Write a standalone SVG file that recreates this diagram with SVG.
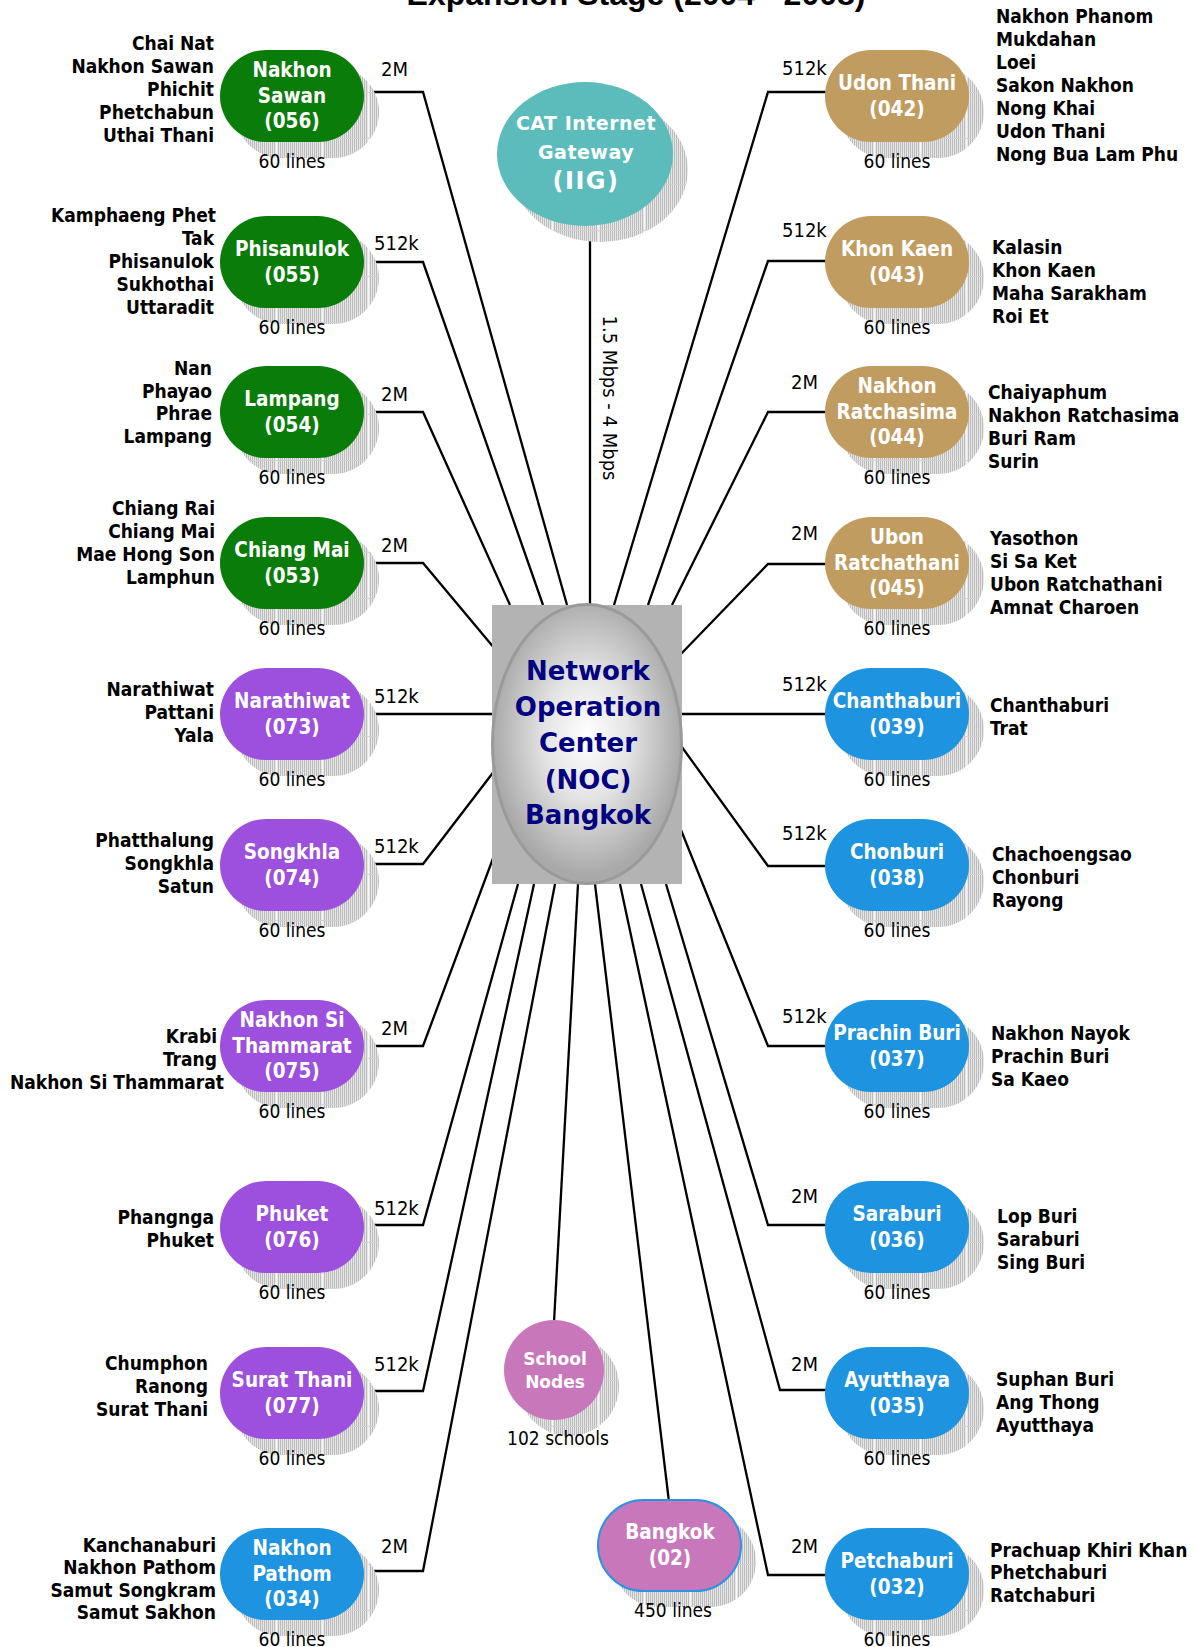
<svg xmlns="http://www.w3.org/2000/svg" width="1195" height="1647" viewBox="0 0 1195 1647">
<style>
  .title{font-family:"Liberation Sans",Arial,sans-serif;font-weight:bold;font-size:32px;fill:#000;text-anchor:middle}
  .lbl{font-family:"DejaVu Sans Condensed","DejaVu Sans",sans-serif;font-stretch:condensed;font-weight:bold;font-size:20.5px;fill:#fff;text-anchor:middle}
  .prov{font-family:"DejaVu Sans Condensed","DejaVu Sans",sans-serif;font-stretch:condensed;font-weight:bold;font-size:19px;fill:#000}
  .end{text-anchor:end}
  .cnt{font-family:"DejaVu Sans Condensed","DejaVu Sans",sans-serif;font-stretch:condensed;font-size:19px;fill:#000;text-anchor:middle}
  .rate{font-family:"DejaVu Sans Condensed","DejaVu Sans",sans-serif;font-stretch:condensed;font-size:20px;fill:#000}
  .vtxt{font-family:"DejaVu Sans Condensed","DejaVu Sans",sans-serif;font-stretch:condensed;font-size:20px;fill:#000;text-anchor:middle}
  .wide{font-family:"DejaVu Sans",Verdana,sans-serif;font-weight:bold;fill:#fff;text-anchor:middle}
  .noc{font-family:"DejaVu Sans",Verdana,sans-serif;font-weight:bold;font-size:26px;fill:#000080;text-anchor:middle}
  .shd{fill:url(#tile)}
  .green{fill:#097C09}
  .purple{fill:#9D50DD}
  .tan{fill:#C19C61}
  .blue{fill:#1E93DF}
  .pink{fill:#C878BA}
  .wire{fill:none;stroke:#000;stroke-width:2.3;stroke-linejoin:miter}
</style>
<defs>
  <pattern id="hatch" width="2" height="4" patternUnits="userSpaceOnUse">
    <rect width="2" height="4" fill="#e6e6e6"/>
    <rect width="1" height="4" fill="#bcbcbc"/>
  </pattern>
  <pattern id="tile" width="46" height="46" patternUnits="userSpaceOnUse">
    <rect width="46" height="46" fill="url(#hatch)"/>
    <rect x="0" y="0" width="1" height="46" fill="#f6f6f6"/>
    <rect x="0" y="0" width="46" height="1" fill="#d2d2d2"/>
  </pattern>
  <radialGradient id="nocFill" cx="0.5" cy="0.47" r="0.5">
    <stop offset="0" stop-color="#ffffff"/>
    <stop offset="0.45" stop-color="#e4e4e4"/>
    <stop offset="1" stop-color="#a9a9a9"/>
  </radialGradient>
</defs>

<rect width="1195" height="1647" fill="#fff"/>

<text class="title" x="636" y="5">Expansion Stage (2004 - 2008)</text>

<!-- links from the NOC to every node, with their rate labels -->
<g id="connectors">
  <path class="wire" d="M370 92 H423 L567 605"/>
  <path class="wire" d="M370 262 H423 L543 605"/>
  <path class="wire" d="M370 412 H423 L510 605"/>
  <path class="wire" d="M370 563 H423 L495 649"/>
  <path class="wire" d="M370 714 H495"/>
  <path class="wire" d="M370 864 H423 L495 770"/>
  <path class="wire" d="M370 1046 H423 L495 853"/>
  <path class="wire" d="M370 1225 H423 L518 884"/>
  <path class="wire" d="M370 1391 H423 L534 884"/>
  <path class="wire" d="M370 1571 H423 L555 884"/>

  <path class="wire" d="M840 92 H768 L614 605"/>
  <path class="wire" d="M840 261 H768 L648 605"/>
  <path class="wire" d="M840 412 H768 L672 605"/>
  <path class="wire" d="M840 564 H768 L679 656"/>
  <path class="wire" d="M840 714 H679"/>
  <path class="wire" d="M840 866 H768 L679 743"/>
  <path class="wire" d="M840 1046 H768 L679 825"/>
  <path class="wire" d="M840 1225 H768 L666 884"/>
  <path class="wire" d="M840 1390 H780 L641 884"/>
  <path class="wire" d="M840 1575 H768 L620 884"/>

  <path class="wire" d="M590 220 V605"/>
  <path class="wire" d="M578 884 L554 1322"/>
  <path class="wire" d="M595 884 L669 1502"/>

  <text class="vtxt" transform="translate(603 398) rotate(90)">1.5 Mbps - 4 Mbps</text>

  <text class="rate" x="381" y="76">2M</text>
  <text class="rate" x="374" y="250">512k</text>
  <text class="rate" x="381" y="401">2M</text>
  <text class="rate" x="381" y="552">2M</text>
  <text class="rate" x="374" y="703">512k</text>
  <text class="rate" x="374" y="853">512k</text>
  <text class="rate" x="381" y="1035">2M</text>
  <text class="rate" x="374" y="1215">512k</text>
  <text class="rate" x="374" y="1371">512k</text>
  <text class="rate" x="381" y="1553">2M</text>

  <text class="rate" x="782" y="75">512k</text>
  <text class="rate" x="782" y="237">512k</text>
  <text class="rate" x="791" y="389">2M</text>
  <text class="rate" x="791" y="540">2M</text>
  <text class="rate" x="782" y="691">512k</text>
  <text class="rate" x="782" y="840">512k</text>
  <text class="rate" x="782" y="1023">512k</text>
  <text class="rate" x="791" y="1203">2M</text>
  <text class="rate" x="791" y="1371">2M</text>
  <text class="rate" x="791" y="1553">2M</text>
</g>

<!-- central hub -->
<g id="noc">
  <rect x="492" y="605" width="190" height="279" fill="#b3b3b3"/>
  <ellipse cx="587" cy="744" rx="94.5" ry="139.5" fill="url(#nocFill)" stroke="#9a9a9a" stroke-width="3"/>
  <text class="noc" x="588"><tspan x="588" y="680">Network</tspan><tspan x="588" y="716">Operation</tspan><tspan x="588" y="752">Center</tspan><tspan x="588" y="789">(NOC)</tspan><tspan x="588" y="824">Bangkok</tspan></text>
</g>

<!-- internet gateway -->
<g id="iig">
  <ellipse class="shd" cx="600" cy="170" rx="88" ry="72"/>
  <ellipse cx="585" cy="154" rx="88" ry="72" fill="#5CBCBC"/>
  <text class="wide" font-size="19" x="586" y="130" letter-spacing="0.5">CAT Internet</text>
  <text class="wide" font-size="19" x="586" y="159" letter-spacing="0.5">Gateway</text>
  <text class="wide" font-size="24" x="586" y="189" letter-spacing="1.5">(IIG)</text>
</g>

<!-- left column -->
<g id="n-nakhon-sawan">
  <rect class="shd" x="235" y="66" width="144" height="92" rx="46"/>
  <rect class="green" x="220" y="50" width="144" height="92" rx="46"/>
  <text class="lbl"><tspan x="292" y="77">Nakhon</tspan><tspan x="292" y="102.5">Sawan</tspan><tspan x="292" y="128">(056)</tspan></text>
  <text class="cnt" x="292" y="168">60 lines</text>
  <text class="prov end"><tspan x="214" y="50">Chai Nat</tspan><tspan x="214" y="73">Nakhon Sawan</tspan><tspan x="214" y="96">Phichit</tspan><tspan x="214" y="119">Phetchabun</tspan><tspan x="214" y="142">Uthai Thani</tspan></text>
</g>
<g id="n-phisanulok">
  <rect class="shd" x="235" y="232" width="144" height="92" rx="46"/>
  <rect class="green" x="220" y="216" width="144" height="92" rx="46"/>
  <text class="lbl"><tspan x="292" y="256">Phisanulok</tspan><tspan x="292" y="282">(055)</tspan></text>
  <text class="cnt" x="292" y="334">60 lines</text>
  <text class="prov end"><tspan x="216" y="222">Kamphaeng Phet</tspan><tspan x="214" y="245">Tak</tspan><tspan x="214" y="268">Phisanulok</tspan><tspan x="214" y="291">Sukhothai</tspan><tspan x="214" y="314">Uttaradit</tspan></text>
</g>
<g id="n-lampang">
  <rect class="shd" x="235" y="382" width="144" height="92" rx="46"/>
  <rect class="green" x="220" y="366" width="144" height="92" rx="46"/>
  <text class="lbl"><tspan x="292" y="406">Lampang</tspan><tspan x="292" y="432">(054)</tspan></text>
  <text class="cnt" x="292" y="484">60 lines</text>
  <text class="prov end"><tspan x="212" y="375">Nan</tspan><tspan x="212" y="398">Phayao</tspan><tspan x="212" y="420">Phrae</tspan><tspan x="212" y="443">Lampang</tspan></text>
</g>
<g id="n-chiang-mai">
  <rect class="shd" x="235" y="533" width="144" height="92" rx="46"/>
  <rect class="green" x="220" y="517" width="144" height="92" rx="46"/>
  <text class="lbl"><tspan x="292" y="557">Chiang Mai</tspan><tspan x="292" y="583">(053)</tspan></text>
  <text class="cnt" x="292" y="635">60 lines</text>
  <text class="prov end"><tspan x="215" y="515">Chiang Rai</tspan><tspan x="215" y="538">Chiang Mai</tspan><tspan x="215" y="561">Mae Hong Son</tspan><tspan x="215" y="584">Lamphun</tspan></text>
</g>
<g id="n-narathiwat">
  <rect class="shd" x="235" y="684" width="144" height="92" rx="46"/>
  <rect class="purple" x="220" y="668" width="144" height="92" rx="46"/>
  <text class="lbl"><tspan x="292" y="708">Narathiwat</tspan><tspan x="292" y="734">(073)</tspan></text>
  <text class="cnt" x="292" y="786">60 lines</text>
  <text class="prov end"><tspan x="214" y="696">Narathiwat</tspan><tspan x="214" y="719">Pattani</tspan><tspan x="214" y="742">Yala</tspan></text>
</g>
<g id="n-songkhla">
  <rect class="shd" x="235" y="835" width="144" height="92" rx="46"/>
  <rect class="purple" x="220" y="819" width="144" height="92" rx="46"/>
  <text class="lbl"><tspan x="292" y="859">Songkhla</tspan><tspan x="292" y="885">(074)</tspan></text>
  <text class="cnt" x="292" y="937">60 lines</text>
  <text class="prov end"><tspan x="214" y="847">Phatthalung</tspan><tspan x="214" y="870">Songkhla</tspan><tspan x="214" y="893">Satun</tspan></text>
</g>
<g id="n-nakhon-si-thammarat">
  <rect class="shd" x="235" y="1016" width="144" height="92" rx="46"/>
  <rect class="purple" x="220" y="1000" width="144" height="92" rx="46"/>
  <text class="lbl"><tspan x="292" y="1027">Nakhon Si</tspan><tspan x="292" y="1052.5">Thammarat</tspan><tspan x="292" y="1078">(075)</tspan></text>
  <text class="cnt" x="292" y="1118">60 lines</text>
  <text class="prov end"><tspan x="217" y="1043">Krabi</tspan><tspan x="217" y="1066">Trang</tspan><tspan x="224" y="1089">Nakhon Si Thammarat</tspan></text>
</g>
<g id="n-phuket">
  <rect class="shd" x="235" y="1197" width="144" height="92" rx="46"/>
  <rect class="purple" x="220" y="1181" width="144" height="92" rx="46"/>
  <text class="lbl"><tspan x="292" y="1221">Phuket</tspan><tspan x="292" y="1247">(076)</tspan></text>
  <text class="cnt" x="292" y="1299">60 lines</text>
  <text class="prov end"><tspan x="214" y="1224">Phangnga</tspan><tspan x="214" y="1247">Phuket</tspan></text>
</g>
<g id="n-surat-thani">
  <rect class="shd" x="235" y="1363" width="144" height="92" rx="46"/>
  <rect class="purple" x="220" y="1347" width="144" height="92" rx="46"/>
  <text class="lbl"><tspan x="292" y="1387">Surat Thani</tspan><tspan x="292" y="1413">(077)</tspan></text>
  <text class="cnt" x="292" y="1465">60 lines</text>
  <text class="prov end"><tspan x="208" y="1370">Chumphon</tspan><tspan x="208" y="1393">Ranong</tspan><tspan x="208" y="1416">Surat Thani</tspan></text>
</g>
<g id="n-nakhon-pathom">
  <rect class="shd" x="235" y="1544" width="144" height="92" rx="46"/>
  <rect class="blue" x="220" y="1528" width="144" height="92" rx="46"/>
  <text class="lbl"><tspan x="292" y="1555">Nakhon</tspan><tspan x="292" y="1580.5">Pathom</tspan><tspan x="292" y="1606">(034)</tspan></text>
  <text class="cnt" x="292" y="1646">60 lines</text>
  <text class="prov end"><tspan x="216" y="1552">Kanchanaburi</tspan><tspan x="216" y="1574">Nakhon Pathom</tspan><tspan x="216" y="1597">Samut Songkram</tspan><tspan x="216" y="1619">Samut Sakhon</tspan></text>
</g>

<!-- right column -->
<g id="n-udon-thani">
  <rect class="shd" x="840" y="66" width="144" height="92" rx="46"/>
  <rect class="tan" x="825" y="50" width="144" height="92" rx="46"/>
  <text class="lbl"><tspan x="897" y="90">Udon Thani</tspan><tspan x="897" y="116">(042)</tspan></text>
  <text class="cnt" x="897" y="168">60 lines</text>
  <text class="prov"><tspan x="996" y="23">Nakhon Phanom</tspan><tspan x="996" y="46">Mukdahan</tspan><tspan x="996" y="69">Loei</tspan><tspan x="996" y="92">Sakon Nakhon</tspan><tspan x="996" y="115">Nong Khai</tspan><tspan x="996" y="138">Udon Thani</tspan><tspan x="996" y="161">Nong Bua Lam Phu</tspan></text>
</g>
<g id="n-khon-kaen">
  <rect class="shd" x="840" y="232" width="144" height="92" rx="46"/>
  <rect class="tan" x="825" y="216" width="144" height="92" rx="46"/>
  <text class="lbl"><tspan x="897" y="256">Khon Kaen</tspan><tspan x="897" y="282">(043)</tspan></text>
  <text class="cnt" x="897" y="334">60 lines</text>
  <text class="prov"><tspan x="992" y="254">Kalasin</tspan><tspan x="992" y="277">Khon Kaen</tspan><tspan x="992" y="300">Maha Sarakham</tspan><tspan x="992" y="323">Roi Et</tspan></text>
</g>
<g id="n-nakhon-ratchasima">
  <rect class="shd" x="840" y="382" width="144" height="92" rx="46"/>
  <rect class="tan" x="825" y="366" width="144" height="92" rx="46"/>
  <text class="lbl"><tspan x="897" y="393">Nakhon</tspan><tspan x="897" y="418.5">Ratchasima</tspan><tspan x="897" y="444">(044)</tspan></text>
  <text class="cnt" x="897" y="484">60 lines</text>
  <text class="prov"><tspan x="988" y="399">Chaiyaphum</tspan><tspan x="988" y="422">Nakhon Ratchasima</tspan><tspan x="988" y="445">Buri Ram</tspan><tspan x="988" y="468">Surin</tspan></text>
</g>
<g id="n-ubon-ratchathani">
  <rect class="shd" x="840" y="533" width="144" height="92" rx="46"/>
  <rect class="tan" x="825" y="517" width="144" height="92" rx="46"/>
  <text class="lbl"><tspan x="897" y="544">Ubon</tspan><tspan x="897" y="569.5">Ratchathani</tspan><tspan x="897" y="595">(045)</tspan></text>
  <text class="cnt" x="897" y="635">60 lines</text>
  <text class="prov"><tspan x="990" y="545">Yasothon</tspan><tspan x="990" y="568">Si Sa Ket</tspan><tspan x="990" y="591">Ubon Ratchathani</tspan><tspan x="990" y="614">Amnat Charoen</tspan></text>
</g>
<g id="n-chanthaburi">
  <rect class="shd" x="840" y="684" width="144" height="92" rx="46"/>
  <rect class="blue" x="825" y="668" width="144" height="92" rx="46"/>
  <text class="lbl"><tspan x="897" y="708">Chanthaburi</tspan><tspan x="897" y="734">(039)</tspan></text>
  <text class="cnt" x="897" y="786">60 lines</text>
  <text class="prov"><tspan x="990" y="712">Chanthaburi</tspan><tspan x="990" y="735">Trat</tspan></text>
</g>
<g id="n-chonburi">
  <rect class="shd" x="840" y="835" width="144" height="92" rx="46"/>
  <rect class="blue" x="825" y="819" width="144" height="92" rx="46"/>
  <text class="lbl"><tspan x="897" y="859">Chonburi</tspan><tspan x="897" y="885">(038)</tspan></text>
  <text class="cnt" x="897" y="937">60 lines</text>
  <text class="prov"><tspan x="992" y="861">Chachoengsao</tspan><tspan x="992" y="884">Chonburi</tspan><tspan x="992" y="907">Rayong</tspan></text>
</g>
<g id="n-prachin-buri">
  <rect class="shd" x="840" y="1016" width="144" height="92" rx="46"/>
  <rect class="blue" x="825" y="1000" width="144" height="92" rx="46"/>
  <text class="lbl"><tspan x="897" y="1040">Prachin Buri</tspan><tspan x="897" y="1066">(037)</tspan></text>
  <text class="cnt" x="897" y="1118">60 lines</text>
  <text class="prov"><tspan x="991" y="1040">Nakhon Nayok</tspan><tspan x="991" y="1063">Prachin Buri</tspan><tspan x="991" y="1086">Sa Kaeo</tspan></text>
</g>
<g id="n-saraburi">
  <rect class="shd" x="840" y="1197" width="144" height="92" rx="46"/>
  <rect class="blue" x="825" y="1181" width="144" height="92" rx="46"/>
  <text class="lbl"><tspan x="897" y="1221">Saraburi</tspan><tspan x="897" y="1247">(036)</tspan></text>
  <text class="cnt" x="897" y="1299">60 lines</text>
  <text class="prov"><tspan x="997" y="1223">Lop Buri</tspan><tspan x="997" y="1246">Saraburi</tspan><tspan x="997" y="1269">Sing Buri</tspan></text>
</g>
<g id="n-ayutthaya">
  <rect class="shd" x="840" y="1363" width="144" height="92" rx="46"/>
  <rect class="blue" x="825" y="1347" width="144" height="92" rx="46"/>
  <text class="lbl"><tspan x="897" y="1387">Ayutthaya</tspan><tspan x="897" y="1413">(035)</tspan></text>
  <text class="cnt" x="897" y="1465">60 lines</text>
  <text class="prov"><tspan x="996" y="1386">Suphan Buri</tspan><tspan x="996" y="1409">Ang Thong</tspan><tspan x="996" y="1432">Ayutthaya</tspan></text>
</g>
<g id="n-petchaburi">
  <rect class="shd" x="840" y="1544" width="144" height="92" rx="46"/>
  <rect class="blue" x="825" y="1528" width="144" height="92" rx="46"/>
  <text class="lbl"><tspan x="897" y="1568">Petchaburi</tspan><tspan x="897" y="1594">(032)</tspan></text>
  <text class="cnt" x="897" y="1646">60 lines</text>
  <text class="prov"><tspan x="990" y="1557">Prachuap Khiri Khan</tspan><tspan x="990" y="1579">Phetchaburi</tspan><tspan x="990" y="1602">Ratchaburi</tspan></text>
</g>

<!-- bottom centre -->
<g id="n-school-nodes">
  <circle class="shd" cx="569" cy="1386" r="50"/>
  <circle class="pink" cx="554" cy="1370" r="50"/>
  <text class="wide" font-size="17"><tspan x="555" y="1365">School</tspan><tspan x="555" y="1388">Nodes</tspan></text>
  <text class="cnt" x="558" y="1445">102 schools</text>
</g>
<g id="n-bangkok">
  <rect class="shd" x="613" y="1516" width="143" height="91" rx="45.5"/>
  <rect class="pink" x="598" y="1500" width="143" height="91" rx="45.5" stroke="#2B93E3" stroke-width="2"/>
  <text class="lbl"><tspan x="670" y="1539">Bangkok</tspan><tspan x="670" y="1565">(02)</tspan></text>
  <text class="cnt" x="673" y="1617">450 lines</text>
</g>
</svg>
